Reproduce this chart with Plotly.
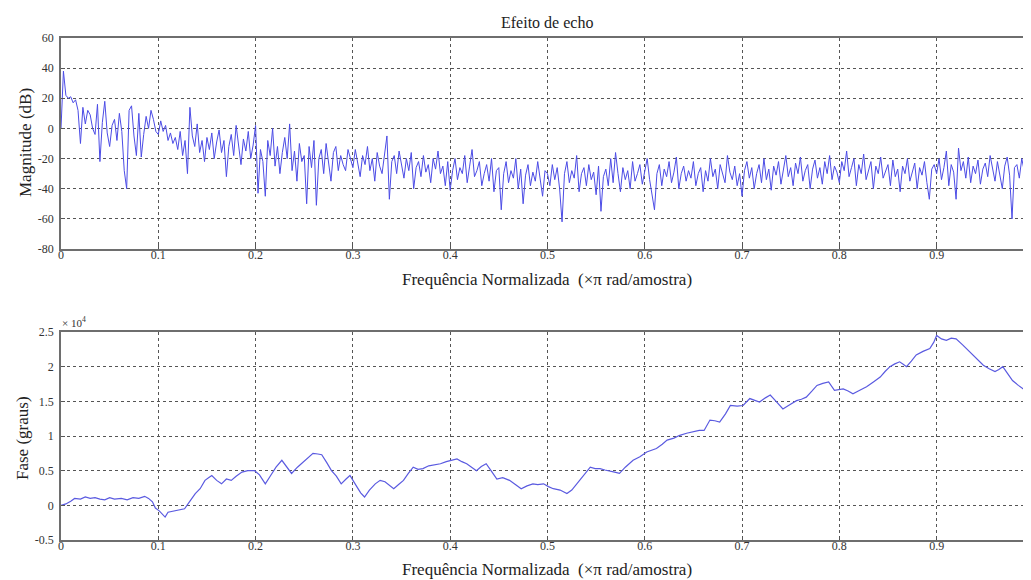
import plotly.graph_objects as go
from plotly.subplots import make_subplots

# ---------------- data ----------------
mag_step = 0.0025
mag_db = [
    0, 38, 22, 20, 21, 17, 19, 12, -10, 14, 3, 12, 9, 0, -4, 16, -22, 4, 18, -3,
    -12, 2, 6, -8, 10, -2, -28, -40, 12, 15, -5, -18, 10, -19, -4, 8, 0, 12, 6, -2,
    -4, 5, -2, 2, -8, -3, -10, -6, -14, -2, -18, -8, -30, 14, -5, -12, 3, -16, -8, -22,
    -6, -14, -3, -20, -9, -1, -16, -8, -32, -12, -4, -18, 2, -10, -24, -7, -15, -2, -20, -11,
    2, -43, -14, -22, -45, -8, -18, 0, -25, -12, -30, -16, -6, -20, 3, -28, -15, -35, -10, -22,
    -18, -50, -12, -26, -8, -51, -20, -14, -30, -10, -22, -35, -16, -12, -28, -18, -24, -28, -14, -20,
    -26, -14, -22, -32, -18, -24, -12, -28, -20, -35, -16, -25, -30, -19, -5, -47, -22, -18, -30, -15,
    -24, -33, -20, -28, -16, -40, -26, -22, -32, -18, -29, -24, -36, -20, -27, -15, -30, -25, -38, -22,
    -41, -28, -20, -34, -26, -30, -18, -36, -25, -14, -32, -28, -22, -38, -30, -24, -35, -20, -42, -28,
    -26, -54, -30, -22, -36, -28, -33, -20, -40, -27, -50, -31, -24, -38, -29, -35, -22, -33, -45, -28,
    -30, -38, -24, -34, -26, -40, -62, -30, -22, -36, -28, -33, -18, -42, -30, -26, -38, -24, -34, -29,
    -44, -25, -55, -32, -27, -38, -20, -36, -16, -30, -42, -26, -34, -28, -40, -22, -35, -30, -24, -37,
    -28, -20, -34, -45, -54, -30, -24, -38, -27, -32, -22, -36, -29, -19, -40, -30, -25, -35, -28, -33,
    -22, -38, -30, -26, -42, -28, -35, -20, -32, -27, -40, -24, -31, -36, -18, -29, -34, -25, -38, -30,
    -45, -28, -22, -33, -26, -40, -30, -24, -36, -20, -34, -27, -41, -25, -31, -22, -37, -28, -18, -32,
    -26, -38, -23, -30, -19, -35, -28, -24, -40, -27, -21, -33, -26, -37, -22, -30, -18, -34, -25, -29,
    -36, -22, -28, -15, -32, -26, -20, -38, -24, -30, -17, -34, -27, -22, -40, -25, -30, -19, -33, -28,
    -24, -38, -21, -32, -27, -42, -25, -30, -20, -35, -28, -23, -40, -26, -31, -22, -36, -47, -27, -24,
    -30, -20, -34, -26, -15, -38, -24, -29, -47, -13, -28, -22, -33, -19, -36, -25, -30, -21, -37, -27,
    -23, -32, -18, -28, -35, -22, -30, -40, -25, -19, -31, -60, -26, -24, -33, -20, -28, -22, -17, -25,
    -20,
]
mag_freq = [round(i * mag_step, 4) for i in range(len(mag_db))]

phase_freq = [
    0.000, 0.005, 0.010, 0.014, 0.020, 0.025, 0.030, 0.035, 0.040, 0.045,
    0.050, 0.055, 0.062, 0.068, 0.074, 0.080, 0.086, 0.090, 0.094, 0.097,
    0.101, 0.104, 0.107, 0.110, 0.114, 0.117, 0.122, 0.127, 0.132, 0.138,
    0.143, 0.148, 0.152, 0.155, 0.160, 0.165, 0.170, 0.175, 0.180, 0.186,
    0.192, 0.199, 0.204, 0.210, 0.215, 0.221, 0.227, 0.232, 0.237, 0.243,
    0.251, 0.255, 0.259, 0.264, 0.268, 0.273, 0.278, 0.283, 0.288, 0.293,
    0.297, 0.304, 0.308, 0.312, 0.317, 0.323, 0.328, 0.333, 0.338, 0.342,
    0.347, 0.352, 0.357, 0.362, 0.367, 0.372, 0.378, 0.383, 0.390, 0.396,
    0.402, 0.407, 0.412, 0.417, 0.422, 0.427, 0.432, 0.437, 0.442, 0.448,
    0.454, 0.461, 0.467, 0.473, 0.479, 0.485, 0.490, 0.496, 0.501, 0.506,
    0.513, 0.520, 0.525, 0.530, 0.537, 0.544, 0.549, 0.554, 0.559, 0.564,
    0.569, 0.574, 0.580, 0.588, 0.595, 0.602, 0.607, 0.612, 0.618, 0.623,
    0.630, 0.636, 0.643, 0.650, 0.656, 0.661, 0.667, 0.672, 0.677, 0.683,
    0.688, 0.695, 0.701, 0.708, 0.713, 0.718, 0.724, 0.729, 0.735, 0.742,
    0.749, 0.756, 0.761, 0.766, 0.772, 0.777, 0.783, 0.789, 0.795, 0.800,
    0.804, 0.809, 0.814, 0.821, 0.828, 0.835, 0.842, 0.847, 0.852, 0.857,
    0.862, 0.866, 0.869, 0.874, 0.879, 0.886, 0.893, 0.897, 0.900, 0.905,
    0.910, 0.915, 0.920, 0.927, 0.934, 0.941, 0.948, 0.954, 0.960, 0.964,
    0.968, 0.973, 0.978, 0.984, 0.989, 0.996, 1.000,
]
phase_e4 = [
    0.00, 0.02, 0.06, 0.10, 0.09, 0.12, 0.10, 0.11, 0.09, 0.08,
    0.11, 0.09, 0.10, 0.08, 0.11, 0.10, 0.13, 0.10, 0.05, -0.04,
    -0.08, -0.12, -0.17, -0.10, -0.09, -0.08, -0.07, -0.05, 0.05, 0.17,
    0.24, 0.36, 0.40, 0.43, 0.36, 0.31, 0.38, 0.36, 0.42, 0.48,
    0.50, 0.50, 0.44, 0.31, 0.42, 0.55, 0.65, 0.55, 0.46, 0.55,
    0.65, 0.70, 0.75, 0.74, 0.73, 0.62, 0.50, 0.42, 0.31, 0.38,
    0.43, 0.27, 0.18, 0.12, 0.22, 0.31, 0.36, 0.34, 0.28, 0.24,
    0.30, 0.36, 0.46, 0.55, 0.52, 0.53, 0.57, 0.58, 0.60, 0.63,
    0.65, 0.67, 0.63, 0.60, 0.55, 0.50, 0.56, 0.60, 0.50, 0.38,
    0.40, 0.36, 0.30, 0.24, 0.28, 0.31, 0.30, 0.31, 0.27, 0.24,
    0.22, 0.17, 0.22, 0.31, 0.43, 0.55, 0.53, 0.53, 0.51, 0.50,
    0.48, 0.46, 0.55, 0.65, 0.70, 0.77, 0.80, 0.82, 0.88, 0.94,
    0.97, 1.01, 1.04, 1.06, 1.08, 1.08, 1.23, 1.22, 1.20, 1.32,
    1.44, 1.43, 1.44, 1.54, 1.51, 1.49, 1.55, 1.59, 1.50, 1.39,
    1.45, 1.51, 1.53, 1.56, 1.65, 1.73, 1.76, 1.78, 1.66, 1.67,
    1.68, 1.65, 1.61, 1.66, 1.71, 1.78, 1.85, 1.93, 2.00, 2.04,
    2.07, 2.03, 2.00, 2.08, 2.17, 2.22, 2.26, 2.35, 2.45, 2.40,
    2.38, 2.41, 2.40, 2.31, 2.21, 2.12, 2.02, 1.97, 1.93, 1.96,
    2.00, 1.90, 1.80, 1.73, 1.68, 1.71, 1.72,
]

x_ticks = [0, 0.1, 0.2, 0.3, 0.4, 0.5, 0.6, 0.7, 0.8, 0.9]
x_tick_text = ["0", "0.1", "0.2", "0.3", "0.4", "0.5", "0.6", "0.7", "0.8", "0.9"]
mag_ticks = [60, 40, 20, 0, -20, -40, -60, -80]
mag_tick_text = ["60", "40", "20", "0", "-20", "-40", "-60", "-80"]
phase_ticks = [2.5, 2, 1.5, 1, 0.5, 0, -0.5]
phase_tick_text = ["2.5", "2", "1.5", "1", "0.5", "0", "-0.5"]

title_text = "Efeito de echo"
xlabel_text = "Frequência Normalizada  (×π rad/amostra)"
mag_label = "Magnitude (dB)"
phase_label = "Fase (graus)"

# ---------------- figure ----------------
# the page body has an 8px default margin, so the figure is sized to fit the
# 1031x580 window and all screen positions are given relative to that offset
OFF = 8
W, H = 1031 - OFF, 580 - OFF
FONT = "Liberation Serif, Times New Roman, serif"


def px(x):
    return (x - OFF) / W


def py(y):
    return 1 - (y - OFF) / H


fig = make_subplots(rows=2, cols=1)
fig.add_trace(go.Scatter(x=mag_freq, y=mag_db, mode="lines",
                         line=dict(color="#4c4ce6", width=1), showlegend=False),
              row=1, col=1)
fig.add_trace(go.Scatter(x=phase_freq, y=phase_e4, mode="lines",
                         line=dict(color="#5a5ae0", width=1.2), showlegend=False),
              row=2, col=1)

axis_common = dict(
    automargin=False,
    showline=True, linecolor="#6e6e6e", linewidth=1.5,
    ticks="inside", ticklen=4, tickcolor="#555",
    showgrid=True, gridcolor="#555555", griddash="dot", gridwidth=1,
    zeroline=False,
    tickfont=dict(family=FONT, size=12, color="#333"),
)
fig.update_xaxes(**axis_common, range=[0, 0.997], tickvals=x_ticks, ticktext=x_tick_text,
                 mirror=True, domain=[px(61), 1.0], ticklabelstandoff=-6)
fig.update_yaxes(**axis_common, mirror=False, ticklabelstandoff=3)
fig.update_yaxes(range=[-80, 60], tickvals=mag_ticks, ticktext=mag_tick_text,
                 domain=[py(249), py(38)], row=1, col=1)
fig.update_yaxes(range=[-0.5, 2.5], tickvals=phase_ticks, ticktext=phase_tick_text,
                 domain=[py(540), py(332)], row=2, col=1)

ann_font = dict(family=FONT, size=17, color="#222")
annotations = [
    dict(text=title_text, x=px(547), y=py(22), xanchor="center", yanchor="middle",
         font=dict(family=FONT, size=16, color="#222")),
    dict(text=xlabel_text, x=px(547), y=py(279), xanchor="center", yanchor="middle"),
    dict(text=xlabel_text, x=px(547), y=py(569), xanchor="center", yanchor="middle"),
    dict(text=mag_label, x=px(25), y=py(143), xanchor="center", yanchor="middle",
         textangle=-90),
    dict(text=phase_label, x=px(22), y=py(438), xanchor="center", yanchor="middle",
         textangle=-90),
]
for a in annotations:
    a.setdefault("font", ann_font)
    a.update(xref="paper", yref="paper", showarrow=False)
annotations.append(dict(text="× 10<sup>4</sup>", x=px(60), y=py(322), xref="paper",
                        yref="paper", xanchor="left", yanchor="middle", showarrow=False,
                        font=dict(family=FONT, size=11, color="#333")))

fig.update_layout(
    width=W, height=H,
    margin=dict(l=0, r=0, t=0, b=0),
    paper_bgcolor="white", plot_bgcolor="white",
    annotations=annotations,
)

fig.write_html("out.html")
